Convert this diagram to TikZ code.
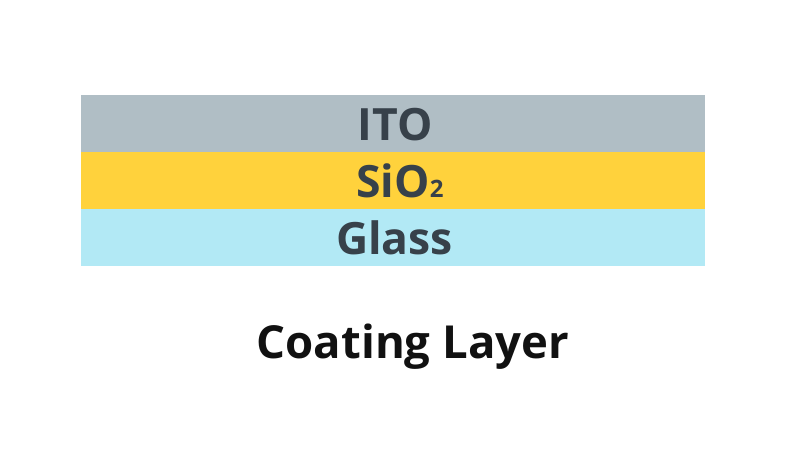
\documentclass[tikz,border=0pt]{standalone}
\usepackage{fontspec}
\setmainfont{Open Sans}
\definecolor{itoc}{HTML}{B0BEC5}
\definecolor{sioc}{HTML}{FFD23C}
\definecolor{glc}{HTML}{B2E9F5}
\definecolor{labc}{HTML}{37414A}
\definecolor{titc}{HTML}{111111}
\tikzset{
  layer/.style={draw=none, minimum width=624pt, minimum height=57pt, inner sep=0pt, anchor=north west},
  lab/.style={text=labc, font=\fontsize{44.5}{44.5}\selectfont\bfseries, inner sep=0pt, anchor=base},
  title/.style={text=titc, font=\fontsize{45.5}{45.5}\selectfont\bfseries, inner sep=0pt, anchor=base}
}
\begin{document}
\begin{tikzpicture}[x=1pt,y=-1pt]
\useasboundingbox (0,0) rectangle (800,469);
\node[layer, fill=itoc] (ito) at (81,94.5) {};
\node[layer, fill=sioc] (sio) at (81,151.5) {};
\node[layer, fill=glc] (gl) at (81,208.5) {};
\node[lab] (itot) at (395,140) {ITO};
\node[lab] (siot) at (400,197) {SiO{\fontsize{24}{24}\selectfont 2}};
\node[lab] (glt) at (394.5,254) {Glass};
\node[title] (tt) at (413,358) {Coating Layer};
\end{tikzpicture}
\end{document}
